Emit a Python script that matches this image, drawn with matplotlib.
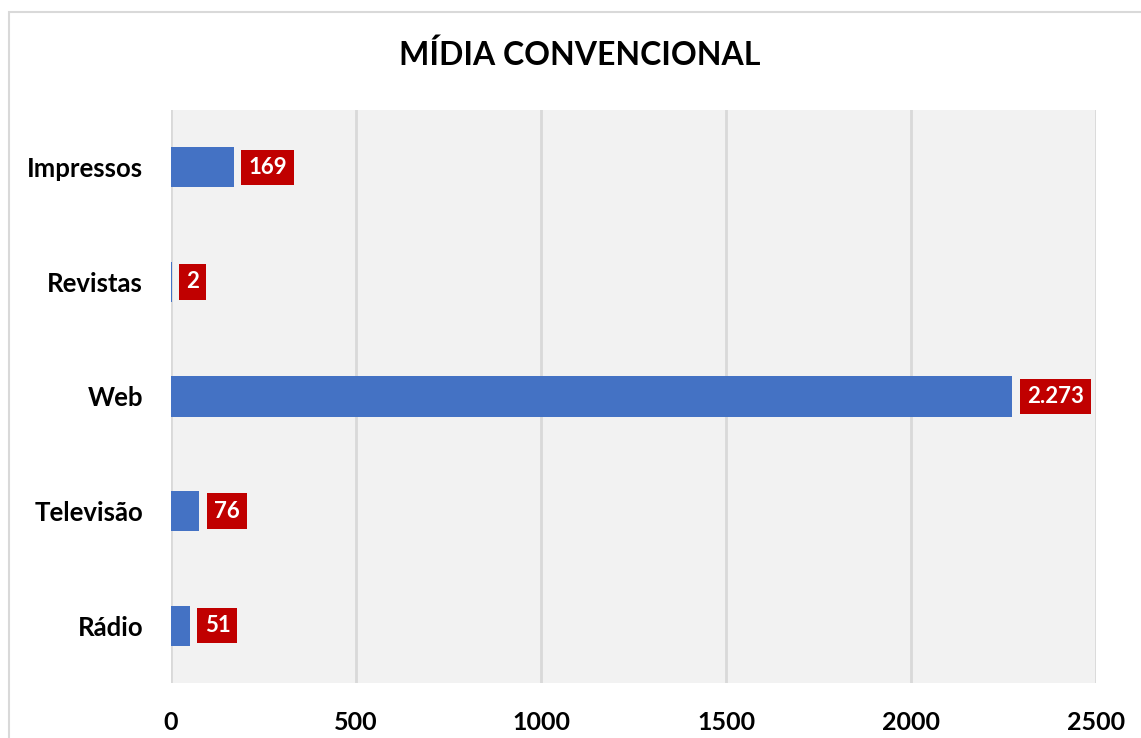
import matplotlib.pyplot as plt
from matplotlib.patches import Rectangle

categorias = ['Impressos', 'Revistas', 'Web', 'Televisão', 'Rádio']
valores = [169, 2, 2273, 76, 51]
rotulos = ['169', '2', '2.273', '76', '51']
ticks_x = [0, 500, 1000, 1500, 2000, 2500]

plt.rcParams['font.family'] = ['Lato', 'DejaVu Sans']

fig = plt.figure(figsize=(11.41, 7.38), dpi=100)
fig.patches.append(Rectangle((9 / 1141, -0.1), 1.2, 1.1 - 12 / 738,
                             transform=fig.transFigure, fill=False,
                             edgecolor='#D9D9D9', linewidth=1.5))

ax = fig.add_axes([171 / 1141, 1 - 683 / 738, (1096 - 171) / 1141, (683 - 110) / 738])
ax.set_facecolor('#F2F2F2')

y = range(len(categorias))
ax.barh(y, valores, height=0.35, color='#4472C4', zorder=3)

for yi, v, r in zip(y, valores, rotulos):
    ax.annotate(r, (v, yi), xytext=(10.6, 0), textcoords='offset points',
                ha='left', va='center', color='white', fontsize=16,
                fontweight='bold', zorder=4,
                bbox=dict(boxstyle='square,pad=0.32', facecolor='#C00000',
                          edgecolor='none'))

ax.set_xlim(0, 2500)
ax.set_ylim(len(categorias) - 0.5, -0.5)
ax.set_xticks(ticks_x)
ax.set_xticklabels([str(t) for t in ticks_x], fontsize=18, fontweight='bold')
ax.set_yticks(list(y))
ax.set_yticklabels(categorias, fontsize=18.5, fontweight='bold')
ax.tick_params(length=0)
ax.tick_params(axis='x', pad=20)
ax.tick_params(axis='y', pad=20)
for s in ax.spines.values():
    s.set_visible(False)
ax.grid(axis='x', color='#D9D9D9', linewidth=2, zorder=1)
ax.set_axisbelow(True)

fig.text(580 / 1141, 1 - 55 / 738, 'MÍDIA CONVENCIONAL', ha='center', va='center',
         fontsize=23, fontweight='bold')

fig.savefig('out.png', dpi=100)
